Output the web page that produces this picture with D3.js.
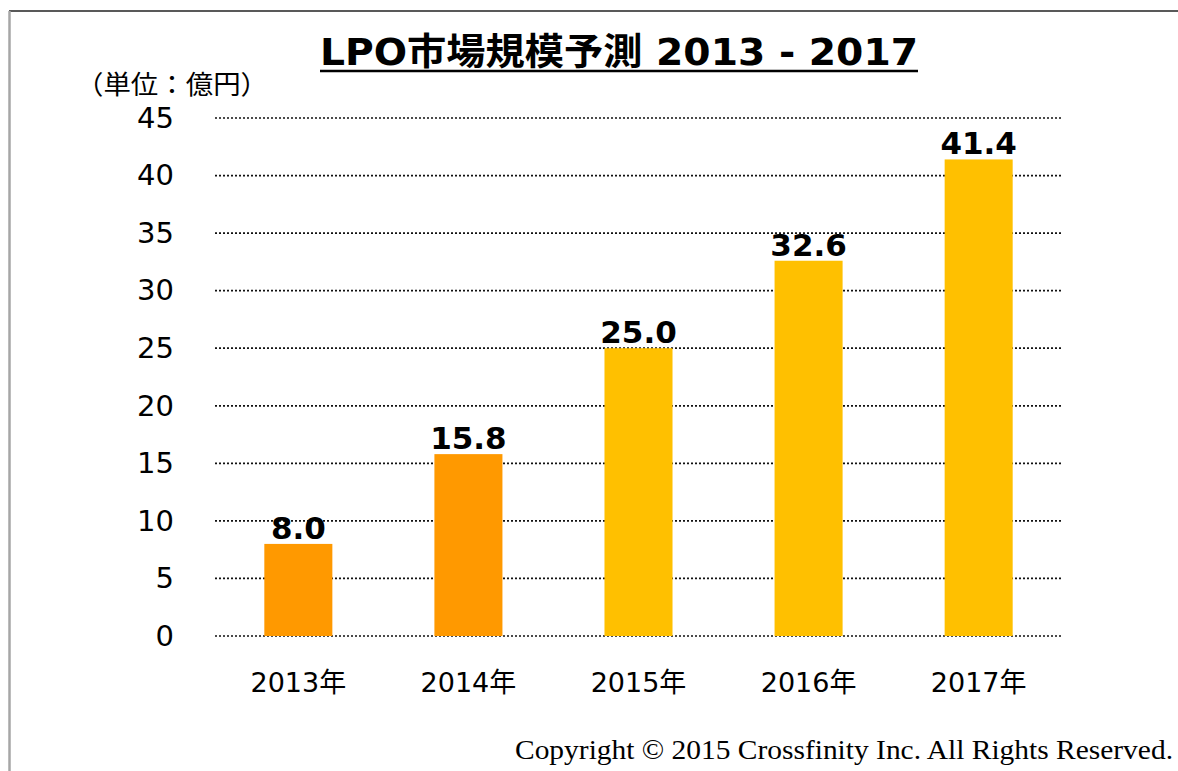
<!DOCTYPE html>
<html>
<head>
<meta charset="utf-8">
<script src="https://cdn.jsdelivr.net/npm/d3@7"></script>
<style>
  body { margin: 0; background: #fff; }
  svg { display: block; }
</style>
</head>
<body>
<div id="container"></div>
<script>
/* DATA */
const years = ["2013年", "2014年", "2015年", "2016年", "2017年"]
const values = [8.0, 15.8, 25.0, 32.6, 41.4]
const forecast = [false, false, true, true, true]
const yTicks = [0, 5, 10, 15, 20, 25, 30, 35, 40, 45]

/* CONSTANTS */
const width = 1178
const height = 771
const margin = { top: 118, bottom: 135, left: 215, right: 116 }

const svg = d3.select("#container")
  .append("svg")
  .attr("width", width)
  .attr("height", height)

// frame lines (top + left)
svg.append("line")
  .attr("x1", 9).attr("x2", width).attr("y1", 11).attr("y2", 11)
  .attr("stroke", "#595959").attr("stroke-width", 2)
svg.append("line")
  .attr("x1", 9.5).attr("x2", 9.5).attr("y1", 11).attr("y2", height)
  .attr("stroke", "#a6a6a6").attr("stroke-width", 2.5)

/* SCALES */
const yScale = d3.scaleLinear()
  .domain([0, 45])
  .range([height - margin.bottom, margin.top])

const xScale = d3.scaleBand()
  .domain(years)
  .range([margin.left, width - margin.right])
  .paddingInner(0.6)
  .paddingOuter(0.29)

// gridlines
svg.append("g")
  .selectAll("line")
  .data(yTicks)
  .join("line")
  .attr("x1", margin.left)
  .attr("x2", width - margin.right)
  .attr("y1", d => yScale(d))
  .attr("y2", d => yScale(d))
  .attr("stroke", "#111")
  .attr("stroke-width", 1.7)
  .attr("stroke-dasharray", "2,2")

// y axis labels
const yAxis = d3.axisLeft(yScale).tickValues(yTicks).tickSize(0).tickPadding(0)
svg.append("g")
  .attr("transform", `translate(174,0)`)
  .call(yAxis)
  .call(g => g.select(".domain").remove())
  .selectAll("text")
  .attr("font-family", "'DejaVu Sans', Verdana, sans-serif")
  .attr("font-size", 29)
  .attr("fill", "#000")

// x axis labels
const xAxis = d3.axisBottom(xScale).tickSize(0).tickPadding(0)
svg.append("g")
  .attr("transform", `translate(0,${yScale(0) + 37})`)
  .call(xAxis)
  .call(g => g.select(".domain").remove())
  .selectAll("text")
  .attr("font-family", "'DejaVu Sans', 'Noto Sans CJK JP', sans-serif")
  .attr("font-size", 27)
  .attr("fill", "#000")

// bars
const data = years.map((y, i) => ({ year: y, value: values[i], forecast: forecast[i] }))
svg.selectAll("rect.bar")
  .data(data)
  .join("rect")
  .attr("class", "bar")
  .attr("x", d => xScale(d.year))
  .attr("width", xScale.bandwidth())
  .attr("y", d => yScale(d.value))
  .attr("height", d => yScale(0) - yScale(d.value))
  .attr("fill", d => d.forecast ? "#FFC000" : "#FF9900")

// value labels
svg.selectAll("text.val")
  .data(data)
  .join("text")
  .attr("class", "val")
  .attr("x", d => xScale(d.year) + xScale.bandwidth() / 2)
  .attr("y", d => yScale(d.value) - 5)
  .attr("text-anchor", "middle")
  .attr("font-family", "'DejaVu Sans', Verdana, sans-serif")
  .attr("font-weight", "bold")
  .attr("font-size", 31)
  .attr("fill", "#000")
  .text(d => d.value.toFixed(1))

// title
svg.append("text")
  .attr("x", 320)
  .attr("y", 65)
  .attr("textLength", 598)
  .attr("lengthAdjust", "spacingAndGlyphs")
  .attr("font-family", "'DejaVu Sans', 'Noto Sans CJK JP', sans-serif")
  .attr("font-weight", "bold")
  .attr("font-size", 37)
  .attr("fill", "#000")
  .text("LPO市場規模予測 2013 - 2017")
svg.append("line")
  .attr("x1", 320).attr("x2", 918).attr("y1", 71).attr("y2", 71)
  .attr("stroke", "#000").attr("stroke-width", 2.5)

// unit label
svg.append("text")
  .attr("x", 76)
  .attr("y", 94)
  .attr("textLength", 192)
  .attr("lengthAdjust", "spacingAndGlyphs")
  .attr("font-family", "'Noto Sans CJK JP', sans-serif")
  .attr("font-size", 26)
  .attr("fill", "#000")
  .text("（単位：億円）")

// copyright
svg.append("text")
  .attr("x", 515)
  .attr("y", 759)
  .attr("textLength", 658)
  .attr("lengthAdjust", "spacingAndGlyphs")
  .attr("font-family", "'Liberation Serif', 'DejaVu Serif', serif")
  .attr("font-size", 27)
  .attr("fill", "#000")
  .text("Copyright © 2015 Crossfinity Inc. All Rights Reserved.")
</script>
</body>
</html>
